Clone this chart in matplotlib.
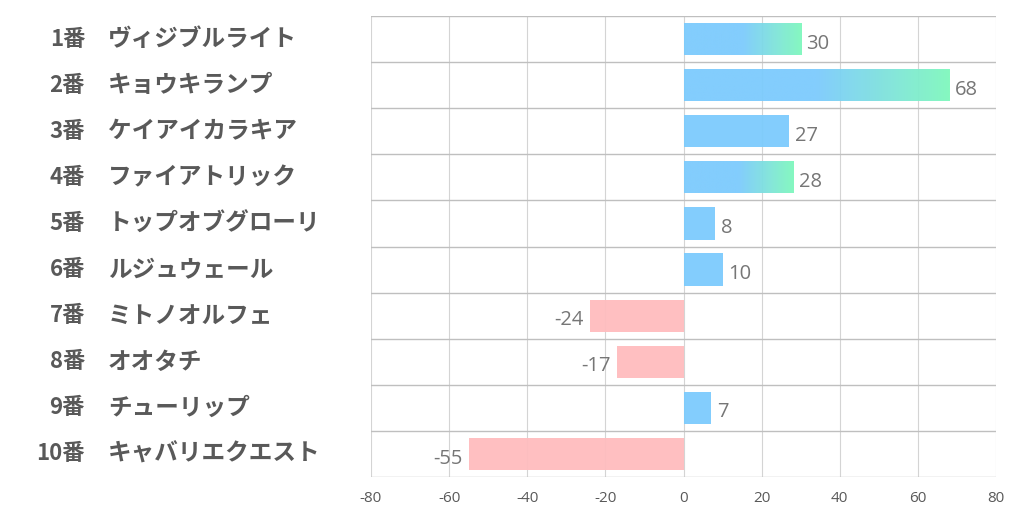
import matplotlib
matplotlib.use("Agg")
import matplotlib.pyplot as plt
import numpy as np
from matplotlib.colors import LinearSegmentedColormap

plt.rcParams['font.family'] = ['Noto Sans CJK JP', 'DejaVu Sans']

numbers = ["1番", "2番", "3番", "4番", "5番", "6番", "7番", "8番", "9番", "10番"]
names = ["ヴィジブルライト", "キョウキランプ", "ケイアイカラキア", "ファイアトリック",
         "トップオブグローリ", "ルジュウェール", "ミトノオルフェ", "オオタチ",
         "チューリップ", "キャバリエクエスト"]
values = [30, 68, 27, 28, 8, 10, -24, -17, 7, -55]
gradient_rows = [0, 1, 3]
xticks = [-80, -60, -40, -20, 0, 20, 40, 60, 80]

blue = "#7ccbfd"
green = "#80f8bd"
pink = "#ffbcbe"

fig = plt.figure(figsize=(10.22, 5.22), dpi=100)
ax = fig.add_axes([371/1022, 1 - 477/522, (996-371)/1022, (477-16)/522])

n = len(values)
ax.set_xlim(-80, 80)
ax.set_ylim(n, 0)

cmap = LinearSegmentedColormap.from_list("bg", [blue, blue, green])
bh = 0.7
vfam = ['Open Sans', 'DejaVu Sans']
for i, v in enumerate(values):
    y = i + 0.5
    if v >= 0:
        if i in gradient_rows:
            rect = ax.barh(y, v, height=bh, color="none", edgecolor="none", zorder=2)[0]
            grad = np.linspace(0, 1, 256).reshape(1, -1)
            im = ax.imshow(grad, cmap=cmap, aspect="auto",
                           extent=[0, v, y + bh/2, y - bh/2], zorder=2, alpha=0.95)
            im.set_clip_path(rect)
        else:
            ax.barh(y, v, height=bh, color=blue, alpha=0.95, zorder=2)
        ax.text(v + 1.5, y + 0.1, str(v), ha="left", va="center",
                fontsize=14.5, color="#767676", family=vfam)
    else:
        ax.barh(y, v, height=bh, color=pink, alpha=0.95, zorder=2)
        ax.text(v - 1.5, y + 0.1, str(v), ha="right", va="center",
                fontsize=14.5, color="#767676", family=vfam)

ax.set_xlim(-80, 80)
ax.set_ylim(n, 0)

for x in xticks:
    ax.axvline(x, color="#d4d4d4", lw=0.8, zorder=1)
for k in range(n + 1):
    ax.axhline(k, color="#bfbfbf", lw=1.0, zorder=3)

for s in ax.spines.values():
    s.set_visible(False)
ax.set_yticks([])
ax.set_xticks(xticks)
ax.set_xticklabels([str(t) for t in xticks], fontsize=11, color="#595959", family=vfam)
ax.tick_params(axis="x", length=0, pad=10)

for i in range(n):
    yf = 1 - (16 + (i + 0.5) * 46.1) / 522
    fig.text(85/1022, yf, numbers[i], ha="right", va="center", fontsize=16,
             fontweight="bold", color="#595959")
    fig.text(108/1022, yf, names[i], ha="left", va="center", fontsize=17,
             fontweight="bold", color="#595959")

fig.savefig("out.png", dpi=100)
